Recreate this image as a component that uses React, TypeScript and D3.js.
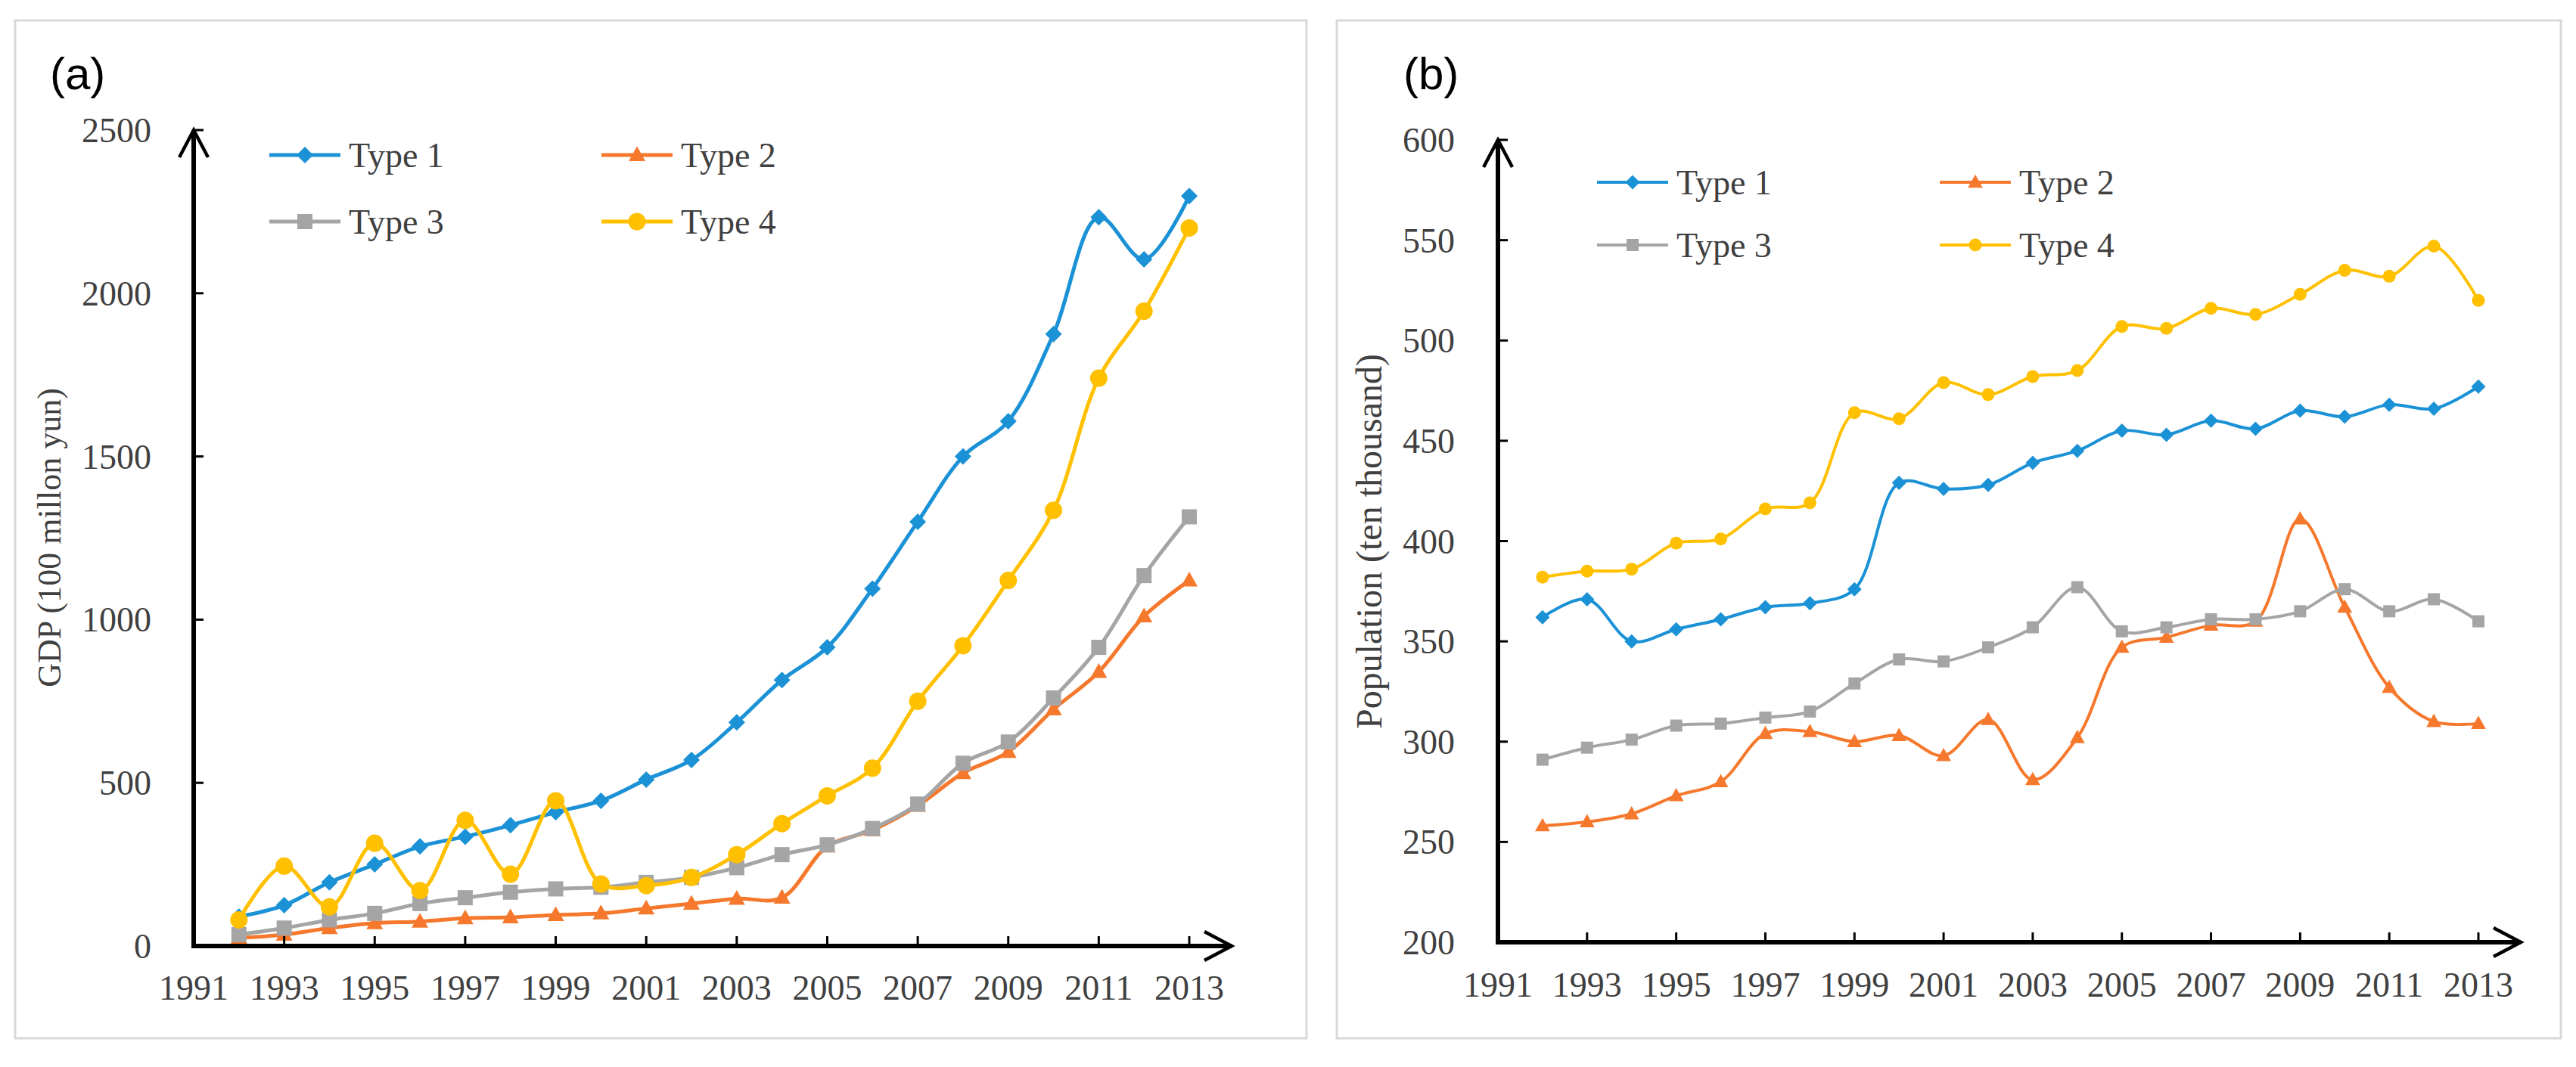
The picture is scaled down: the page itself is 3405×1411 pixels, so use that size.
import React from 'react';
import * as d3 from 'd3';

const years = [1992, 1993, 1994, 1995, 1996, 1997, 1998, 1999, 2000, 2001, 2002, 2003, 2004, 2005, 2006, 2007, 2008, 2009, 2010, 2011, 2012, 2013];
const xTickYears = [1991, 1993, 1995, 1997, 1999, 2001, 2003, 2005, 2007, 2009, 2011, 2013];
const seriesNames = ['Type 1', 'Type 2', 'Type 3', 'Type 4'];

const gdpType1 = [90, 125, 195, 250, 305, 335, 370, 410, 445, 510, 570, 685, 815, 915, 1095, 1300, 1500, 1608, 1875, 2233, 2104, 2298];
const gdpType2 = [25, 35, 55, 70, 75, 85, 88, 95, 100, 115, 130, 145, 148, 305, 355, 430, 530, 595, 725, 840, 1010, 1120];
const gdpType3 = [35, 55, 80, 100, 130, 148, 165, 175, 180, 195, 210, 240, 280, 310, 360, 435, 560, 625, 760, 915, 1135, 1315];
const gdpType4 = [80, 245, 120, 315, 170, 385, 220, 445, 190, 185, 210, 280, 375, 460, 545, 750, 920, 1120, 1335, 1740, 1945, 2200];
const gdpTicks = [0, 500, 1000, 1500, 2000, 2500];

const popType1 = [362, 371, 350, 356, 361, 367, 369, 376, 429, 426, 428, 439, 445, 455, 453, 460, 456, 465, 462, 468, 466, 477];
const popType2 = [258, 260, 264, 273, 280, 304, 305, 300, 303, 293, 311, 281, 302, 347, 352, 358, 360, 411, 367, 327, 310, 309];
const popType3 = [291, 297, 301, 308, 309, 312, 315, 329, 341, 340, 347, 357, 377, 355, 357, 361, 361, 365, 376, 365, 371, 360];
const popType4 = [382, 385, 386, 399, 401, 416, 419, 464, 461, 479, 473, 482, 485, 507, 506, 516, 513, 523, 535, 532, 547, 520];
const popTicks = [200, 250, 300, 350, 400, 450, 500, 550, 600];

const colors = ['#1b91d6', '#f5782c', '#a5a5a5', '#ffc000'];
const shapes = ['diamond', 'triangle', 'square', 'circle'];
const TEXT = '#404040';
const SERIF = '"Liberation Serif", "DejaVu Serif", serif';

function markerPath(shape: string, s: number): string {
  if (shape === 'diamond') return `M0,${-s} L${s},0 L0,${s} L${-s},0Z`;
  if (shape === 'square') return `M${-s},${-s} H${s} V${s} H${-s}Z`;
  if (shape === 'triangle') return `M0,${-s * 1.15} L${s * 1.1},${s * 0.8} L${-s * 1.1},${s * 0.8}Z`;
  return d3.arc()({ innerRadius: 0, outerRadius: s, startAngle: 0, endAngle: Math.PI * 2 }) as string;
}

type PanelProps = {
  label: string;
  labelX: number;
  box: [number, number, number, number];
  x0: number; x1: number; xEnd: number;
  yBottom: number; yTop: number;
  domainY: [number, number];
  yTicks: number[];
  data: number[][];
  title: string; titleX: number; titleY: number; titleSize: number;
  tickLabelRight: number;
  xLabelBaseline: number;
  legendRows: [number, number];
  legendCols: [number, number];
  markerSizes: number[];
  lineWidth: number;
};

function Panel(p: PanelProps) {
  const x = d3.scaleLinear().domain([1991, 2013]).range([p.x0, p.x1]);
  const y = d3.scaleLinear().domain(p.domainY).range([p.yBottom, p.yTop]);
  const line = d3.line<number>().x((_, i) => x(years[i])).y((v) => y(v)).curve(d3.curveCatmullRom.alpha(0.5));
  const [bx, by, bw, bh] = p.box;
  const legendPos = [
    [p.legendCols[0], p.legendRows[0]],
    [p.legendCols[1], p.legendRows[0]],
    [p.legendCols[0], p.legendRows[1]],
    [p.legendCols[1], p.legendRows[1]],
  ];
  return (
    <g>
      <rect x={bx} y={by} width={bw} height={bh} fill="#fff" stroke="#d9d9d9" strokeWidth={3} />
      <text x={p.labelX} y={118} fontFamily='"Liberation Sans", Arial, sans-serif' fontSize={60} fill="#000">{p.label}</text>
      {/* series */}
      {p.data.map((vals, si) => (
        <g key={si}>
          <path d={line(vals) as string} fill="none" stroke={colors[si]} strokeWidth={p.lineWidth} strokeLinejoin="round" />
          {vals.map((v, i) => (
            <path key={i} d={markerPath(shapes[si], p.markerSizes[si])} transform={`translate(${x(years[i])},${y(v)})`} fill={colors[si]} />
          ))}
        </g>
      ))}
      {/* axes */}
      <line x1={p.x0} y1={p.yBottom} x2={p.xEnd} y2={p.yBottom} stroke="#000" strokeWidth={6} />
      <line x1={p.x0} y1={p.yBottom + 3} x2={p.x0} y2={p.yTop} stroke="#000" strokeWidth={6} />
      <polyline points={`${p.xEnd - 36},${p.yBottom - 19} ${p.xEnd},${p.yBottom} ${p.xEnd - 36},${p.yBottom + 19}`} fill="none" stroke="#000" strokeWidth={4.5} />
      <polyline points={`${p.x0 - 19},${p.yTop + 36} ${p.x0},${p.yTop} ${p.x0 + 19},${p.yTop + 36}`} fill="none" stroke="#000" strokeWidth={4.5} />
      {p.yTicks.map((t) => (
        <g key={t}>
          {t !== p.domainY[0] && <line x1={p.x0} x2={p.x0 + 13} y1={y(t)} y2={y(t)} stroke="#000" strokeWidth={3} />}
          <text x={p.tickLabelRight} y={y(t) + 16} textAnchor="end" fontFamily={SERIF} fontSize={46} fill={TEXT}>{t}</text>
        </g>
      ))}
      {xTickYears.map((t) => (
        <g key={t}>
          {t !== 1991 && <line x1={x(t)} x2={x(t)} y1={p.yBottom} y2={p.yBottom - 13} stroke="#000" strokeWidth={3} />}
          <text x={x(t)} y={p.xLabelBaseline} textAnchor="middle" fontFamily={SERIF} fontSize={46} fill={TEXT}>{t}</text>
        </g>
      ))}
      <text transform={`translate(${p.titleX},${p.titleY}) rotate(-90)`} textAnchor="middle" fontFamily={SERIF} fontSize={p.titleSize} fill={TEXT}>{p.title}</text>
      {/* legend */}
      {seriesNames.map((n, si) => {
        const [lx, ly] = legendPos[si];
        return (
          <g key={n}>
            <line x1={lx} x2={lx + 94} y1={ly} y2={ly} stroke={colors[si]} strokeWidth={p.lineWidth} />
            <path d={markerPath(shapes[si], p.markerSizes[si])} transform={`translate(${lx + 47},${ly})`} fill={colors[si]} />
            <text x={lx + 105} y={ly + 16} fontFamily={SERIF} fontSize={46} fill={TEXT}>{n}</text>
          </g>
        );
      })}
    </g>
  );
}

export default function App() {
  return (
    <svg width={3405} height={1411} style={{ position: 'absolute', left: 0, top: 0, background: '#fff' }}>
      <rect x={0} y={0} width={3405} height={1411} fill="#fff" />
      <Panel
        label="(a)" labelX={66}
        box={[20, 27, 1707, 1346]}
        x0={256} x1={1572} xEnd={1628}
        yBottom={1251} yTop={172}
        domainY={[0, 2500]} yTicks={gdpTicks}
        data={[gdpType1, gdpType2, gdpType3, gdpType4]}
        title="GDP (100 millon yun)" titleX={80} titleY={711} titleSize={44}
        tickLabelRight={200} xLabelBaseline={1322}
        legendRows={[205, 293]} legendCols={[356, 795]}
        markerSizes={[11, 10, 10, 11.5]} lineWidth={5}
      />
      <Panel
        label="(b)" labelX={1855}
        box={[1767, 27, 1618, 1346]}
        x0={1980} x1={3276} xEnd={3332}
        yBottom={1246} yTop={185}
        domainY={[200, 600]} yTicks={popTicks}
        data={[popType1, popType2, popType3, popType4]}
        title="Population (ten thousand)" titleX={1826} titleY={716} titleSize={48}
        tickLabelRight={1923} xLabelBaseline={1318}
        legendRows={[241, 324]} legendCols={[2111, 2564]}
        markerSizes={[9.5, 9, 8, 8.5]} lineWidth={4}
      />
    </svg>
  );
}
